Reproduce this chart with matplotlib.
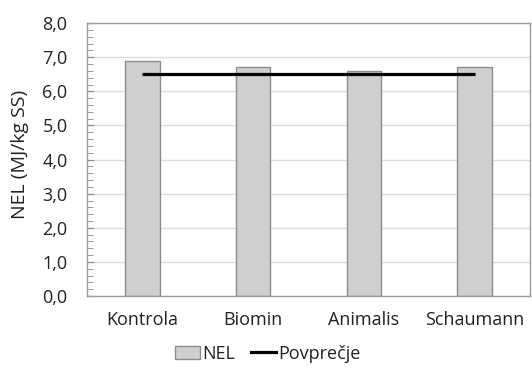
import matplotlib
matplotlib.use("Agg")
import matplotlib.pyplot as plt
from matplotlib.ticker import MultipleLocator, FuncFormatter
from matplotlib.patches import Patch
from matplotlib.lines import Line2D

categories = ["Kontrola", "Biomin", "Animalis", "Schaumann"]
nel = [6.9, 6.7, 6.6, 6.7]
povprecje = [6.5, 6.5, 6.5, 6.5]

plt.rcParams["font.family"] = ["Open Sans", "DejaVu Sans"]

fig = plt.figure(figsize=(5.32, 3.73), dpi=100)
ax = fig.add_axes([0.1635, 0.2064, 0.8325, 0.7316])

x = range(len(categories))
ax.bar(x, nel, width=0.31, color="#d0cfd0", edgecolor="#8c8c8c",
       linewidth=1.0, zorder=2)
ax.plot(x, povprecje, color="black", lw=2.3, zorder=3, solid_capstyle="butt")

ax.set_xlim(-0.5, len(categories) - 0.5)
ax.set_ylim(0, 8)
ax.yaxis.set_major_locator(MultipleLocator(1))
ax.yaxis.set_minor_locator(MultipleLocator(0.2))
ax.yaxis.set_major_formatter(FuncFormatter(lambda v, p: f"{v:.1f}".replace(".", ",")))
ax.set_xticks(list(x))
ax.set_xticklabels(categories)
ax.grid(axis="y", color="#dedede", lw=1.0, zorder=0)
ax.set_axisbelow(True)

for s in ax.spines.values():
    s.set_color("#9a9a9a")
    s.set_linewidth(1.0)
ax.tick_params(axis="y", which="both", direction="in", color="#8c8c8c",
               labelsize=13, pad=14, labelcolor="#222222")
ax.tick_params(axis="y", which="major", length=5)
ax.tick_params(axis="y", which="minor", length=4)
ax.tick_params(axis="x", length=0, labelsize=13, pad=11, labelcolor="#222222")
ax.set_ylabel("NEL (MJ/kg SS)", fontsize=14, color="#222222")
ax.yaxis.set_label_coords(-0.131, 0.52)

handles = [Patch(facecolor="#d0cfd0", edgecolor="#8c8c8c", label="NEL"),
           Line2D([0], [0], color="black", lw=2.3, label="Povprečje")]
fig.legend(handles=handles, loc="center", bbox_to_anchor=(0.503, 0.052),
           ncol=2, frameon=False, fontsize=13, handlelength=1.4,
           handletextpad=0.1, columnspacing=0.9, labelcolor="#222222")

fig.savefig("out.png", dpi=100)
